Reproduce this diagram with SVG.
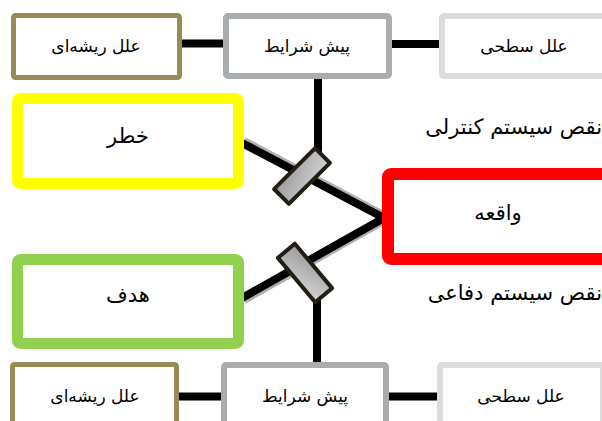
<svg xmlns="http://www.w3.org/2000/svg" width="602" height="421" viewBox="0 0 602 421">
<defs>
<linearGradient id="barrierGrad" x1="0" y1="0" x2="1" y2="1">
<stop offset="0" stop-color="#9a9a9a"/>
<stop offset="1" stop-color="#d4d4d4"/>
</linearGradient>
<filter id="soft" x="-10%" y="-50%" width="120%" height="200%"><feGaussianBlur stdDeviation="0.6"/></filter>
</defs>
<style>
.box{fill:#ffffff}
.olive{stroke:#978c55;stroke-width:5}
.gray{stroke:#aaadb0;stroke-width:6}
.light{stroke:#dcdcdc;stroke-width:6}
.yellow{stroke:#ffff00;stroke-width:11}
.green{stroke:#92d050;stroke-width:11}
.red{stroke:#ff0000;stroke-width:12}
.line{stroke:#000000;stroke-width:8;fill:none}
.shadow{stroke:#b0b0b0;stroke-width:8;fill:none;filter:url(#soft)}
.barrier{fill:url(#barrierGrad);stroke:#221e14;stroke-width:4;stroke-linejoin:round}
text{font-family:"DejaVu Sans","Noto Sans",sans-serif;fill:#000000;text-anchor:middle}
.small{font-size:17px}
.big{font-size:21px}
</style>
<g id="connectors">
<line class="shadow" x1="182" y1="40" x2="223" y2="40"/>
<line class="line" x1="182" y1="43.5" x2="223" y2="43.5"/>
<line class="shadow" x1="392" y1="40" x2="439" y2="40"/>
<line class="line" x1="392" y1="44" x2="439" y2="44"/>
<line class="shadow" x1="179" y1="400" x2="221" y2="400"/>
<line class="line" x1="179" y1="396.5" x2="221" y2="396.5"/>
<line class="shadow" x1="389" y1="400" x2="437" y2="400"/>
<line class="line" x1="389" y1="396.5" x2="437" y2="396.5"/>
<line class="line" x1="318" y1="78" x2="318" y2="160" stroke-width="7"/>
<line class="line" x1="317" y1="290" x2="317" y2="364" stroke-width="7"/>
<line class="shadow" x1="244" y1="141" x2="385" y2="216" stroke-width="6"/>
<line class="line" x1="242" y1="143" x2="384" y2="218" stroke-width="7"/>
<line class="shadow" x1="244" y1="300" x2="385" y2="220" stroke-width="6"/>
<line class="line" x1="242" y1="298" x2="384" y2="218" stroke-width="7"/>
</g>
<g id="node-root-top"><rect class="box olive" x="13.5" y="15.5" width="166" height="62" rx="2"/><text class="small" x="96" y="52">علل ریشه‌ای</text></g>
<g id="node-pre-top"><rect class="box gray" x="226" y="16" width="163" height="60" rx="2"/><text class="small" x="307" y="52">پیش شرایط</text></g>
<g id="node-surface-top"><rect class="box light" x="442" y="16" width="163" height="60" rx="2"/><text class="small" x="524" y="52">علل سطحی</text></g>
<g id="node-hazard"><rect class="box yellow" x="17.5" y="98.5" width="221" height="85" rx="3"/><text class="big" x="128" y="143">خطر</text></g>
<g id="node-target"><rect class="box green" x="17.5" y="259.5" width="221" height="84" rx="3"/><text class="big" x="128" y="302">هدف</text></g>
<g id="node-event"><rect class="box red" x="388" y="174" width="230" height="85" rx="3"/><text class="big" x="498" y="220">واقعه</text></g>
<g id="label-control"><text class="big" x="602" y="134" style="text-anchor:end">نقص سیستم کنترلی</text></g>
<g id="label-defense"><text class="big" x="602" y="300" style="text-anchor:end">نقص سیستم دفاعی</text></g>
<g id="barrier-top"><rect class="barrier" x="-29" y="-10.5" width="58" height="21" transform="translate(302 176) rotate(-45)"/></g>
<g id="barrier-bottom"><rect class="barrier" x="-29" y="-11" width="58" height="22" transform="translate(305 273) rotate(50)"/></g>
<g id="node-root-bottom"><rect class="box olive" x="12.5" y="364.5" width="164" height="62" rx="2"/><text class="small" x="95" y="402">علل ریشه‌ای</text></g>
<g id="node-pre-bottom"><rect class="box gray" x="224" y="365" width="162" height="62" rx="2"/><text class="small" x="305" y="402">پیش شرایط</text></g>
<g id="node-surface-bottom"><rect class="box light" x="440" y="365" width="163" height="62" rx="2"/><text class="small" x="521" y="402">علل سطحی</text></g>
</svg>
